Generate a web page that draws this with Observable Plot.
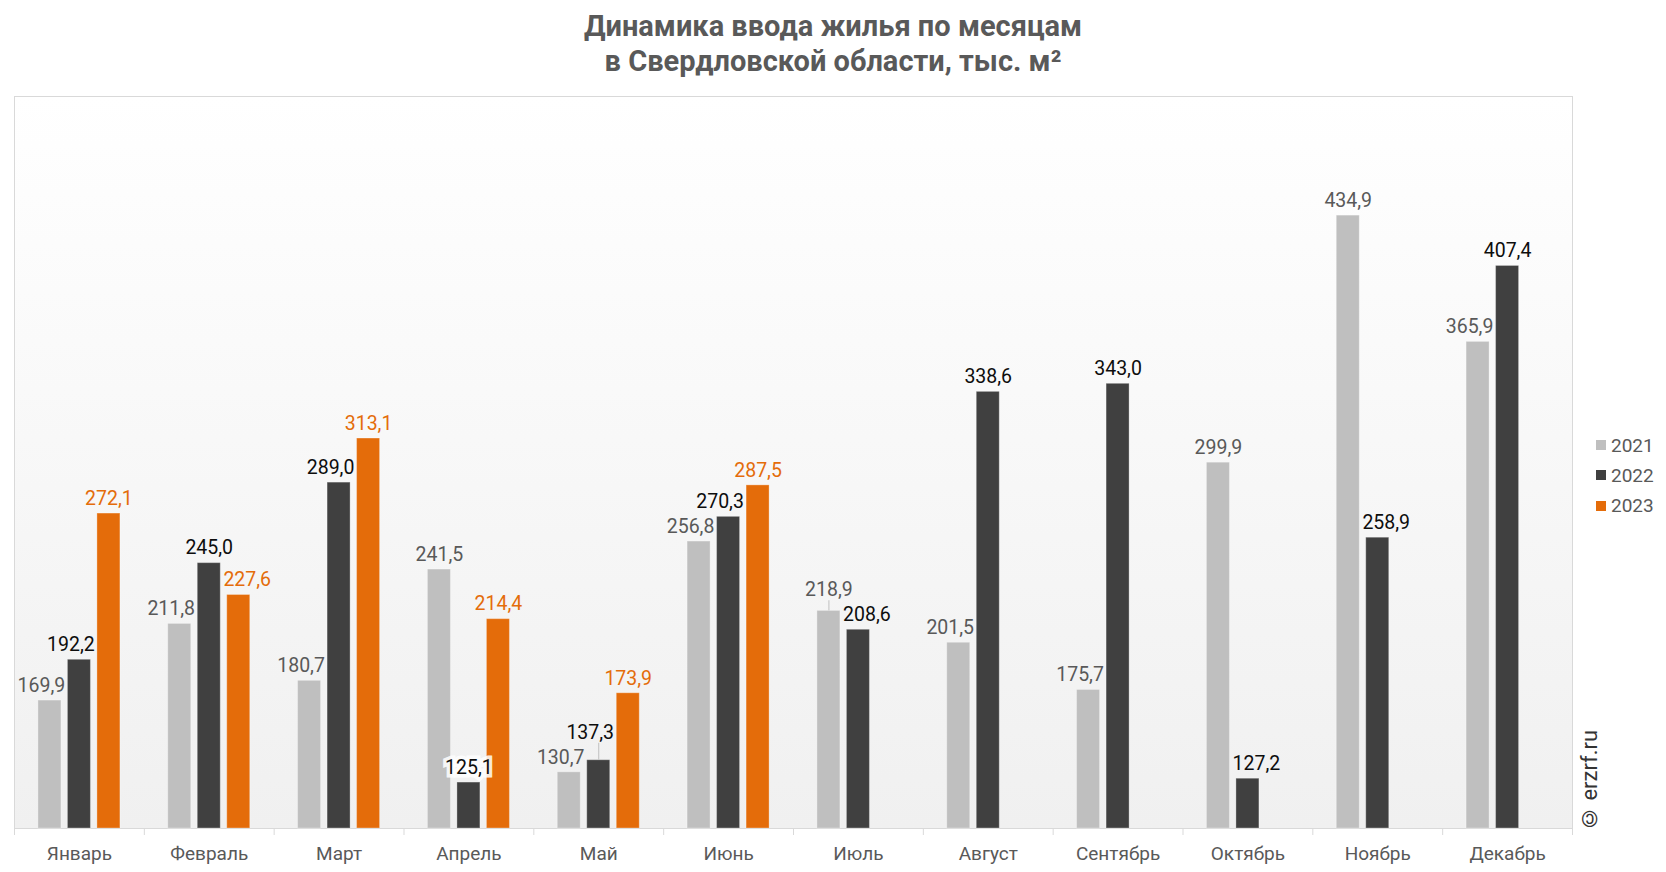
<!DOCTYPE html>
<html>
<head>
<meta charset="utf-8">
<script src="https://cdn.jsdelivr.net/npm/d3@7"></script>
<script src="https://cdn.jsdelivr.net/npm/@observablehq/plot@0.6"></script>
<style>
  html, body { margin: 0; padding: 0; background: #ffffff; }
  body { width: 1666px; height: 872px; position: relative; overflow: hidden; font-family: Roboto, "Noto Sans", sans-serif; }
  #title { position: absolute; left: 0; top: 9px; width: 1666px; text-align: center; font-weight: 700; font-size: 29px; line-height: 35px; color: #595959; }
  #chart { position: absolute; left: 0; top: 90px; }
  #legend { position: absolute; left: 1596px; top: 430px; font-size: 19px; color: #595959; }
  #legend .item { display: flex; align-items: center; height: 30.3px; }
  #legend .sw { width: 10px; height: 10px; margin-right: 5px; }
  #copy { position: absolute; left: 1577px; top: 729px; height: 102px; writing-mode: vertical-rl; transform: rotate(180deg); font-size: 22px; color: #333333; line-height: 26px; white-space: nowrap; }
</style>
</head>
<body>
<div id="title">Динамика ввода жилья по месяцам<br>в Свердловской области, тыс. м²</div>
<div id="chart"></div>
<div id="legend"></div>
<div id="copy">© erzrf.ru</div>
<script>
const months = ["Январь","Февраль","Март","Апрель","Май","Июнь","Июль","Август","Сентябрь","Октябрь","Ноябрь","Декабрь"];
const years = ["2021","2022","2023"];
const v2021 = [169.9, 211.8, 180.7, 241.5, 130.7, 256.8, 218.9, 201.5, 175.7, 299.9, 434.9, 365.9];
const v2022 = [192.2, 245.0, 289.0, 125.1, 137.3, 270.3, 208.6, 338.6, 343.0, 127.2, 258.9, 407.4];
const v2023 = [272.1, 227.6, 313.1, 214.4, 173.9, 287.5, null, null, null, null, null, null];
const yMin = 100, yMax = 500;

const barColors = {"2021": "#bfbfbf", "2022": "#404040", "2023": "#e46c0a"};
const labelColors = {"2021": "#595959", "2022": "#0d0d0d", "2023": "#e46c0a"};

const W = 1666, H = 782;
const mL = 14, mR = 94, mT = 6, mB = 44;
const bw = (W - mL - mR) / months.length;
const k = (H - mT - mB) / (yMax - yMin); // px per unit
const step = 29.5, barW = 23, labelShift = 8.5, minGap = 24, targetGap = 25;
const inset = (bw - barW) / 2;
const fmt = d => d.toFixed(1).replace(".", ",");

const series = [v2021, v2022, v2023];
const rows = [];
series.forEach((vals, j) => vals.forEach((v, i) => {
  if (v == null) return;
  // label placement: move label away from a taller neighbouring bar
  const left = j > 0 ? series[j - 1][i] : null;
  const right = j < series.length - 1 ? series[j + 1][i] : null;
  const leftTaller = left != null && left > v;
  const rightTaller = right != null && right > v;
  let shift = 0, boxed = false;
  if (leftTaller && rightTaller) boxed = true;
  else if (rightTaller) shift = -1;
  else if (leftTaller) shift = 1;
  // raise the taller of two neighbouring labels that sit too close vertically
  let raise = 0;
  [left, right].forEach(n => {
    if (n == null || n >= v) return;
    const gap = (v - n) * k;
    if (gap < minGap) raise = Math.max(raise, targetGap - gap);
  });
  rows.push({month: months[i], year: years[j], j, value: v, shift, boxed, raise});
}));

const marks = [
  Plot.frame({fill: "url(#bgGrad)", stroke: "#d9d9d9"}),
  Plot.ruleX(months, {x: d => d, y1: yMin, y2: yMin, dx: -bw / 2, insetTop: 7, insetBottom: 0, stroke: "#d9d9d9"}),
  Plot.ruleX([months[months.length - 1]], {x: d => d, y1: yMin, y2: yMin, dx: bw / 2, insetTop: 7, insetBottom: 0, stroke: "#d9d9d9"})
];
years.forEach((yr, j) => {
  const sub = rows.filter(r => r.year === yr);
  marks.push(Plot.barY(sub, {
    x: "month", y1: yMin, y2: "value",
    fill: barColors[yr], stroke: "#ffffff", strokeOpacity: 0.3, strokeWidth: 1,
    insetLeft: inset, insetRight: inset, dx: (j - 1) * step
  }));
  // leader lines for raised labels
  const raised = sub.filter(r => r.raise > 3);
  if (raised.length) marks.push(Plot.ruleX(raised, {
    x: "month", y1: "value", y2: d => d.value + (d.raise + 4) / k,
    dx: (j - 1) * step, stroke: "#bfbfbf", strokeWidth: 1
  }));
});
years.forEach((yr, j) => {
  const sub = rows.filter(r => r.year === yr);
  const groups = d3.groups(sub, r => `${r.shift}|${r.boxed}|${r.raise.toFixed(2)}`);
  groups.forEach(([key, g]) => {
    const r0 = g[0];
    const opts = {
      x: "month", y: "value", text: d => fmt(d.value),
      dx: (j - 1) * step + r0.shift * labelShift, dy: -15 - r0.raise,
      fill: labelColors[yr], fontSize: 19.5
    };
    if (r0.boxed) Object.assign(opts, {stroke: "#ffffff", strokeWidth: 7, strokeOpacity: 0.85, strokeLinejoin: "miter"});
    marks.push(Plot.text(g, opts));
  });
});

const plot = Plot.plot({
  width: W, height: H,
  marginLeft: mL, marginRight: mR, marginTop: mT, marginBottom: mB,
  style: {fontFamily: "Roboto, sans-serif", background: "transparent", overflow: "visible"},
  x: {type: "band", domain: months, padding: 0, round: false, label: null, tickSize: 0, tickPadding: 18, fontSize: 19},
  y: {domain: [yMin, yMax], axis: null},
  marks
});

d3.select(plot).selectAll("g[aria-label='x-axis tick label'] text, g[aria-label='x-axis'] text")
  .attr("fill", "#595959").style("font-size", "19px");

const defs = d3.select(plot).insert("defs", ":first-child");
const grad = defs.append("linearGradient").attr("id", "bgGrad").attr("x1", 0).attr("y1", 0).attr("x2", 0).attr("y2", 1);
grad.append("stop").attr("offset", "0%").attr("stop-color", "#ffffff");
grad.append("stop").attr("offset", "100%").attr("stop-color", "#f0f0f0");

document.getElementById("chart").appendChild(plot);

const legend = d3.select("#legend");
years.forEach(yr => {
  const it = legend.append("div").attr("class", "item");
  it.append("div").attr("class", "sw").style("background", barColors[yr]);
  it.append("span").text(yr);
});
</script>
</body>
</html>
